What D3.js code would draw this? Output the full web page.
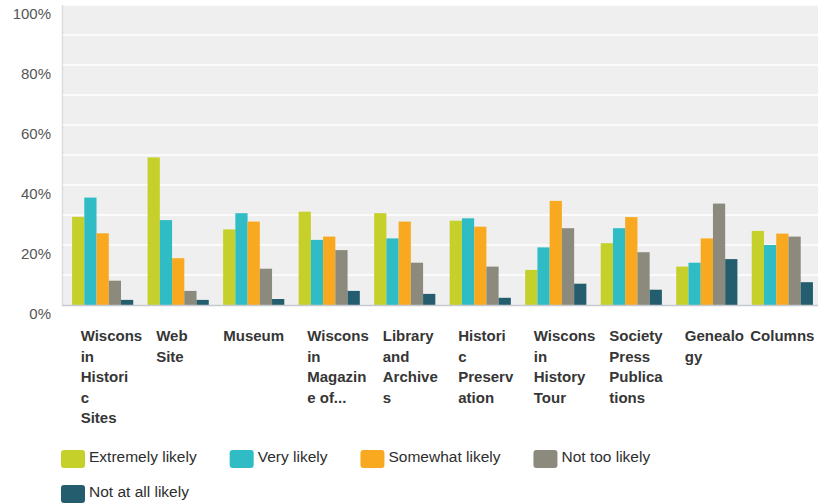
<!DOCTYPE html>
<html>
<head>
<meta charset="utf-8">
<script src="https://cdn.jsdelivr.net/npm/d3@7"></script>
<style>
  html, body { margin: 0; padding: 0; background: #ffffff; }
  svg { display: block; font-family: "Liberation Sans", Arial, Helvetica, sans-serif; }
</style>
</head>
<body>
<svg id="chart" width="818" height="504"></svg>
<script>
// Category axis labels, already broken into the lines they are shown on
const categoryLines = [
  ["Wiscons", "in", "Histori", "c", "Sites"],
  ["Web", "Site"],
  ["Museum"],
  ["Wiscons", "in", "Magazin", "e of..."],
  ["Library", "and", "Archive", "s"],
  ["Histori", "c", "Preserv", "ation"],
  ["Wiscons", "in", "History", "Tour"],
  ["Society", "Press", "Publica", "tions"],
  ["Genealo", "gy"],
  ["Columns"]
];
const categories = categoryLines.map(l => l.join(" "));

const seriesNames = ["Extremely likely", "Very likely", "Somewhat likely", "Not too likely", "Not at all likely"];
const seriesColors = ["#c6d02b", "#2fbcc5", "#f8a920", "#8b8a7c", "#235d6e"];

// Percent of respondents per category, one array per answer
const extremelyLikely = [29.4, 49.2, 25.2, 31.1, 30.6, 28.1, 11.7, 20.6, 12.8, 24.7];
const veryLikely      = [35.8, 28.3, 30.6, 21.7, 22.2, 28.9, 19.2, 25.6, 14.1, 20.0];
const somewhatLikely  = [23.9, 15.6, 27.8, 22.8, 27.8, 26.1, 34.7, 29.3, 22.2, 23.8];
const notTooLikely    = [ 8.1,  4.7, 12.1, 18.3, 14.1, 12.8, 25.6, 17.6, 33.8, 22.8];
const notAtAllLikely  = [ 1.7,  1.7,  2.0,  4.7,  3.7,  2.4,  7.1,  5.1, 15.3,  7.6];
const seriesValues = [extremelyLikely, veryLikely, somewhatLikely, notTooLikely, notAtAllLikely];

const yTicks = [0, 20, 40, 60, 80, 100];
const yGrid = d3.range(0, 101, 10);

const svg = d3.select("#chart");
const plot = { left: 62, right: 818, top: 5, bottom: 305 };

const x = d3.scaleBand()
  .domain(categories)
  .range([63, 822])
  .paddingInner(0.19)
  .paddingOuter(0.12);

const xInner = d3.scaleBand()
  .domain(seriesNames)
  .range([0, x.bandwidth()])
  .padding(0);

const y = d3.scaleLinear().domain([0, 100]).range([plot.bottom, plot.top]);

// plot background
svg.append("rect")
  .attr("x", plot.left).attr("y", plot.top)
  .attr("width", plot.right - plot.left).attr("height", plot.bottom - plot.top)
  .attr("fill", "#efefef");

svg.append("line")
  .attr("x1", plot.left + 0.5).attr("x2", plot.left + 0.5)
  .attr("y1", plot.top).attr("y2", plot.bottom)
  .attr("stroke", "#dcdcdc").attr("stroke-width", 1.5);

// white horizontal gridlines
svg.append("g")
  .selectAll("line")
  .data(yGrid.filter(v => v > 0))
  .join("line")
  .attr("x1", plot.left + 1).attr("x2", plot.right)
  .attr("y1", d => y(d)).attr("y2", d => y(d))
  .attr("stroke", "#ffffff").attr("stroke-width", 1.6);

// y axis labels
svg.append("g")
  .selectAll("text")
  .data(yTicks)
  .join("text")
  .attr("x", 51)
  .attr("y", d => y(d) + 14)
  .attr("text-anchor", "end")
  .attr("font-size", 15)
  .attr("fill", "#555555")
  .text(d => d + "%");

// bars
const groups = svg.append("g")
  .selectAll("g")
  .data(categories)
  .join("g")
  .attr("transform", d => `translate(${x(d)},0)`);

groups.selectAll("rect")
  .data((c, i) => seriesNames.map((s, k) => ({ s, k, v: seriesValues[k][i] })))
  .join("rect")
  .attr("x", d => xInner(d.s))
  .attr("width", xInner.bandwidth())
  .attr("y", d => y(d.v))
  .attr("height", d => y(0) - y(d.v))
  .attr("fill", d => seriesColors[d.k]);

// baseline
svg.append("line")
  .attr("x1", plot.left).attr("x2", plot.right)
  .attr("y1", y(0) + 0.5).attr("y2", y(0) + 0.5)
  .attr("stroke", "#c6cad0").attr("stroke-width", 1.5);

// category labels
svg.append("g")
  .selectAll("text")
  .data(categories)
  .join("text")
  .attr("font-size", 15)
  .attr("font-weight", "bold")
  .attr("fill", "#363636")
  .each(function (c, i) {
    const lines = categoryLines[i];
    const cx = x(c) + x.bandwidth() / 2;
    const single = lines.length === 1;
    const tx = single ? cx : cx - 22;
    d3.select(this)
      .attr("text-anchor", single ? "middle" : "start")
      .selectAll("tspan")
      .data(lines)
      .join("tspan")
      .attr("x", tx)
      .attr("y", (l, j) => 341 + j * 20.5)
      .text(l => l);
  });

// legend, laid out as a flowing row that wraps
const legend = svg.append("g");
const legendLeft = 61, legendMaxRight = 720, rowGap = 35, swatchW = 24, swatchH = 18, textGap = 28, itemGap = 33;
let lx = legendLeft, ly = 450;
seriesNames.forEach((name, k) => {
  const item = legend.append("g");
  const t = item.append("text")
    .attr("font-size", 15.5)
    .attr("fill", "#2e2e2e")
    .attr("x", textGap)
    .attr("y", 12)
    .text(name);
  const w = textGap + t.node().getComputedTextLength();
  if (lx + w > legendMaxRight && lx > legendLeft) {
    lx = legendLeft;
    ly += rowGap;
  }
  item.insert("rect", "text")
    .attr("width", swatchW).attr("height", swatchH)
    .attr("rx", 3).attr("ry", 3)
    .attr("fill", seriesColors[k]);
  item.attr("transform", `translate(${lx},${ly})`);
  lx += w + itemGap;
});
</script>
</body>
</html>
